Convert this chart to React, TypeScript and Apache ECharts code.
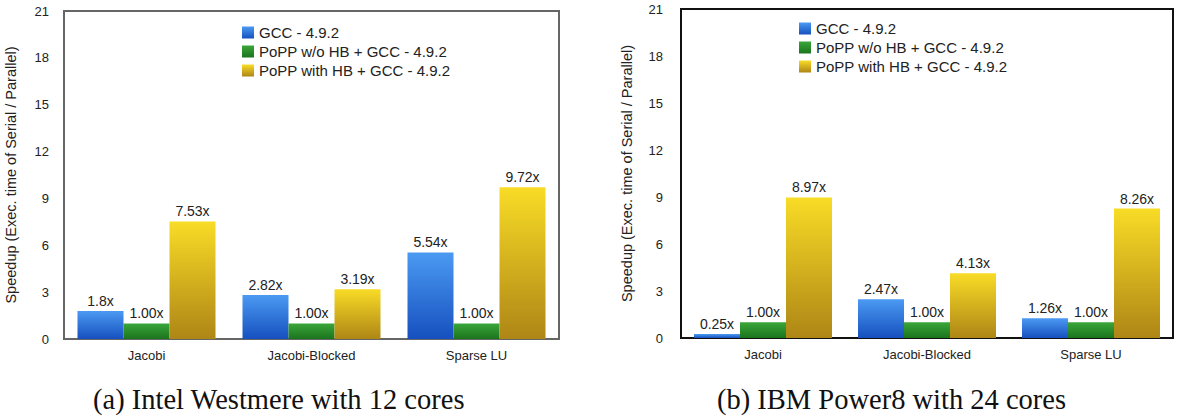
import React, { useEffect, useRef } from "react";
import * as echarts from "echarts";

const categories = ["Jacobi", "Jacobi-Blocked", "Sparse LU"];
const seriesNames = ["GCC - 4.9.2", "PoPP w/o HB + GCC - 4.9.2", "PoPP with HB + GCC - 4.9.2"];

// (a) Intel Westmere
const westGcc = [1.8, 2.82, 5.54];
const westNoHb = [1.0, 1.0, 1.0];
const westHb = [7.53, 3.19, 9.72];
const westGccLbl = ["1.8x", "2.82x", "5.54x"];
const westNoHbLbl = ["1.00x", "1.00x", "1.00x"];
const westHbLbl = ["7.53x", "3.19x", "9.72x"];

// (b) IBM Power8
const powGcc = [0.25, 2.47, 1.26];
const powNoHb = [1.0, 1.0, 1.0];
const powHb = [8.97, 4.13, 8.26];
const powGccLbl = ["0.25x", "2.47x", "1.26x"];
const powNoHbLbl = ["1.00x", "1.00x", "1.00x"];
const powHbLbl = ["8.97x", "4.13x", "8.26x"];

const yTicks = { min: 0, max: 21, interval: 3 };
const captions = ["(a) Intel Westmere with 12 cores", "(b) IBM Power8 with 24 cores"];
const yName = "Speedup (Exec. time of Serial / Parallel)";

const grad = (top: string, bottom: string) =>
  new echarts.graphic.LinearGradient(0, 0, 0, 1, [
    { offset: 0, color: top },
    { offset: 1, color: bottom },
  ]);

const colors = [
  ["#4b9af2", "#1650bf"],
  ["#3aa63a", "#1b741d"],
  ["#f8dc26", "#ae8616"],
];

const FONT = "Liberation Sans, Arial, Helvetica, sans-serif";
const SERIF = "28.5px 'Liberation Serif', 'Times New Roman', serif";

export default function App() {
  const ref = useRef<HTMLDivElement>(null);
  useEffect(() => {
    if (!ref.current) return;
    const chart = echarts.init(ref.current, undefined, { renderer: "svg" });

    const mkSeries = (
      idx: number,
      name: string,
      data: number[],
      labels: string[],
      ci: number,
      bw: number
    ) => ({
      type: "bar",
      name,
      xAxisIndex: idx,
      yAxisIndex: idx,
      data,
      barWidth: bw,
      barGap: "0%",
      itemStyle: { color: grad(colors[ci][0], colors[ci][1]) },
      label: {
        show: true,
        position: "top",
        distance: 3,
        fontFamily: FONT,
        fontSize: 14,
        color: "#222",
        formatter: (p: any) => labels[p.dataIndex],
      },
    });

    const mkX = (gi: number) => ({
      type: "category",
      gridIndex: gi,
      data: categories,
      axisLine: { show: false },
      axisTick: { show: false },
      axisLabel: { fontFamily: FONT, fontSize: 13, color: "#222", margin: 10 },
    });
    const mkY = (gi: number, margin: number, gap: number) => ({
      type: "value",
      gridIndex: gi,
      ...yTicks,
      splitLine: { show: false },
      axisLine: { show: false },
      axisTick: { show: false },
      axisLabel: { fontFamily: FONT, fontSize: 13, color: "#222", margin },
      name: yName,
      nameLocation: "middle",
      nameGap: gap,
      nameRotate: 90,
      nameTextStyle: { fontFamily: FONT, fontSize: 14.5, color: "#222" },
    });
    const mkLegend = (left: number, top: number) => ({
      left,
      top,
      orient: "vertical",
      icon: "rect",
      itemWidth: 12,
      itemHeight: 12,
      itemGap: 2,
      itemTextGap: 10,
      data: seriesNames,
      textStyle: { fontFamily: FONT, fontSize: 15, color: "#222", lineHeight: 17 },
    });

    chart.setOption({
      animation: false,
      backgroundColor: "#fff",
      grid: [
        { left: 64, top: 11, width: 495, height: 328, show: true, borderColor: "#666", borderWidth: 2, backgroundColor: "transparent" },
        { left: 681, top: 9, width: 492, height: 329, show: true, borderColor: "#111", borderWidth: 2, backgroundColor: "transparent" },
      ],
      xAxis: [mkX(0), mkX(1)],
      yAxis: [mkY(0, 15, 46), mkY(1, 18, 47)],
      legend: [mkLegend(237, 19), mkLegend(794, 15)],
      series: [
        mkSeries(0, seriesNames[0], westGcc, westGccLbl, 0, 46),
        mkSeries(0, seriesNames[1], westNoHb, westNoHbLbl, 1, 46),
        mkSeries(0, seriesNames[2], westHb, westHbLbl, 2, 46),
        mkSeries(1, seriesNames[0], powGcc, powGccLbl, 0, 46),
        mkSeries(1, seriesNames[1], powNoHb, powNoHbLbl, 1, 46),
        mkSeries(1, seriesNames[2], powHb, powHbLbl, 2, 46),
      ],
      graphic: [
        {
          type: "text",
          left: 93,
          top: 385,
          style: { text: captions[0], font: SERIF, fill: "#111" },
        },
        {
          type: "text",
          left: 717,
          top: 385,
          style: { text: captions[1], font: SERIF, fill: "#111" },
        },
      ],
    });
    return () => chart.dispose();
  }, []);
  return (
    <div
      ref={ref}
      style={{ position: "fixed", left: 0, top: 0, width: 1178, height: 420, background: "#fff" }}
    />
  );
}
